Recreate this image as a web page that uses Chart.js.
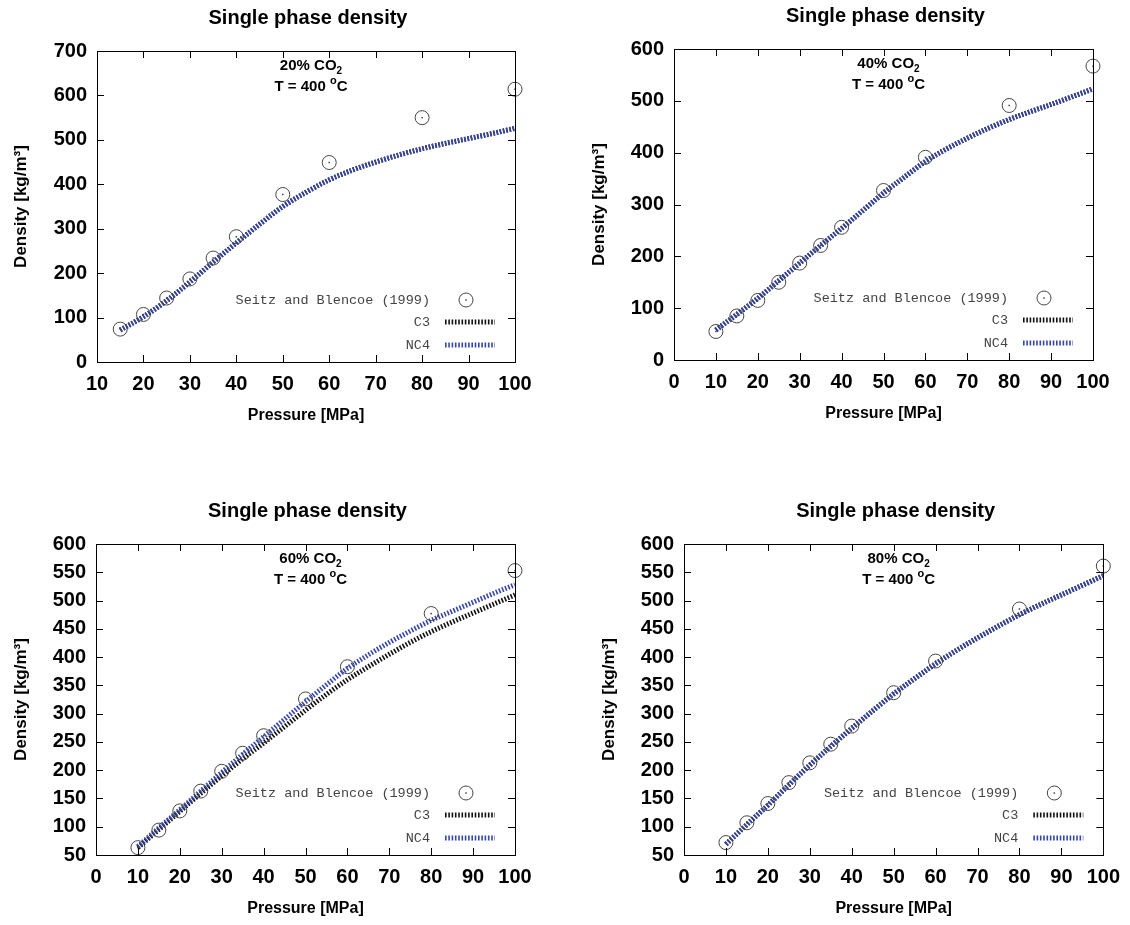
<!DOCTYPE html>
<html>
<head>
<meta charset="utf-8">
<script src="https://cdn.jsdelivr.net/npm/chart.js@4.4.0/dist/chart.umd.min.js"></script>
<style>
  body { margin: 0; background: #fff; width: 1130px; height: 925px; position: relative; overflow: hidden; }
  canvas { position: absolute; }
</style>
</head>
<body>
<canvas id="c20" width="560" height="445" style="left:0px;top:0px"></canvas>
<canvas id="c40" width="560" height="445" style="left:570px;top:0px"></canvas>
<canvas id="c60" width="560" height="435" style="left:0px;top:490px"></canvas>
<canvas id="c80" width="560" height="435" style="left:570px;top:490px"></canvas>
<script>
// measured points, Seitz and Blencoe (1999)
const expP20 = [15, 20, 25, 30, 35, 40, 50, 60, 80, 100];
const exp20 = [74, 107, 144, 187, 234, 282, 377, 449, 550, 614];
const expP = [10, 15, 20, 25, 30, 35, 40, 50, 60, 80, 100];
const exp40 = [55, 85, 115, 150, 187, 221, 256, 327, 391, 491, 567];
const exp60 = [63, 94, 128, 163, 198, 230, 261, 326, 383, 477, 553];
const exp80 = [72, 107, 141, 178, 213, 246, 278, 337, 393, 485, 561];

// model curves (C3 / NC4)
const curveP20 = [15, 20, 25, 30, 35, 40, 45, 50, 55, 60, 65, 70, 75, 80, 85, 90, 95, 100];
const c3_20  = [72, 102, 138, 180, 225, 268, 310, 350, 382, 410, 432, 450, 466, 480, 492, 503, 514, 526];
const nc4_20 = [72, 102, 138, 180, 225, 268, 310, 350, 382, 410, 432, 450, 466, 480, 492, 503, 514, 526];

const curveP = [10, 15, 20, 25, 30, 35, 40, 45, 50, 55, 60, 65, 70, 75, 80, 85, 90, 95, 100];
const c3_40  = [58, 88, 119, 153, 187, 221, 254, 288, 322, 353, 383, 407, 428, 447, 464, 479, 493, 508, 523];
const nc4_40 = [58, 88, 119, 153, 187, 221, 254, 288, 322, 353, 383, 407, 428, 447, 464, 479, 493, 508, 523];
const c3_60  = [63, 95, 127, 159, 190, 220, 248, 277, 306, 334, 360, 383, 405, 426, 445, 462, 478, 494, 510];
const nc4_60 = [65, 98, 130, 163, 196, 228, 259, 290, 321, 351, 380, 404, 426, 446, 465, 481, 497, 513, 528];
const c3_80  = [69, 104, 138, 174, 209, 242, 274, 305, 335, 362, 388, 412, 434, 455, 475, 493, 510, 527, 544];
const nc4_80 = [69, 104, 138, 174, 209, 242, 274, 305, 335, 362, 388, 412, 434, 455, 475, 493, 510, 527, 544];

const FONT = "'Liberation Sans', Arial, sans-serif";
const MONO = "'Courier New', 'Liberation Mono', monospace";
const BLUE = '#3546a8';

function toXY(xs, ys) {
  return xs.map((x, i) => ({ x: x, y: ys[i] }));
}

// text pieces: [text, yShift, size]
function drawPieces(ctx, pieces, cx, y) {
  let w = 0;
  pieces.forEach(p => {
    ctx.font = 'bold ' + p[2] + 'px ' + FONT;
    w += ctx.measureText(p[0]).width;
  });
  let x = cx - w / 2;
  pieces.forEach(p => {
    ctx.font = 'bold ' + p[2] + 'px ' + FONT;
    ctx.fillText(p[0], x, y + p[1]);
    x += ctx.measureText(p[0]).width;
  });
}

const extras = {
  id: 'extras',
  afterDatasetsDraw(chart) {
    const ctx = chart.ctx;
    const a = chart.chartArea;
    const o = chart.options.plugins.extras;
    const xs = chart.scales.x, ys = chart.scales.y;
    ctx.save();

    // little dot in the middle of every measured circle
    ctx.fillStyle = '#444';
    chart.getDatasetMeta(0).data.forEach(p => {
      ctx.fillRect(p.x - 0.75, p.y - 0.75, 1.5, 1.5);
    });

    // frame
    ctx.strokeStyle = '#000';
    ctx.lineWidth = 1;
    ctx.strokeRect(Math.round(a.left) + 0.5, Math.round(a.top) + 0.5,
      Math.round(a.right - a.left), Math.round(a.bottom - a.top));

    // inner ticks on all four sides
    ctx.beginPath();
    xs.ticks.forEach(t => {
      const px = Math.round(xs.getPixelForValue(t.value)) + 0.5;
      ctx.moveTo(px, a.bottom); ctx.lineTo(px, a.bottom - 7);
      ctx.moveTo(px, a.top); ctx.lineTo(px, a.top + 7);
    });
    ys.ticks.forEach(t => {
      const py = Math.round(ys.getPixelForValue(t.value)) + 0.5;
      ctx.moveTo(a.left, py); ctx.lineTo(a.left + 7, py);
      ctx.moveTo(a.right, py); ctx.lineTo(a.right - 7, py);
    });
    ctx.stroke();

    // title
    const cx = (a.left + a.right) / 2;
    ctx.fillStyle = '#000';
    ctx.textBaseline = 'middle';
    ctx.textAlign = 'left';
    drawPieces(ctx, [['Single phase density', 0, 20]], cx + 2, a.top - 33);

    // annotation
    drawPieces(ctx, [[o.co2 + '% CO', 0, 15], ['2', 5, 10]], cx + 5, a.top + 15);
    drawPieces(ctx, [['T = 400 ', 0, 15], ['o', -6, 11], ['C', 0, 15]], cx + 5, a.top + 36);

    // legend
    ctx.font = '13.5px ' + MONO;
    ctx.textAlign = 'right';
    const rows = [
      ['Seitz and Blencoe (1999)', null],
      ['C3', '#111'],
      ['NC4', BLUE]
    ];
    const rowY = [a.bottom - 62, a.bottom - 40, a.bottom - 17];
    rows.forEach((r, i) => {
      ctx.fillStyle = '#444';
      ctx.fillText(r[0], a.right - 85, rowY[i]);
      if (r[1] === null) {
        ctx.beginPath();
        ctx.strokeStyle = '#444';
        ctx.lineWidth = 1;
        ctx.arc(a.right - 49, rowY[i], 7, 0, Math.PI * 2);
        ctx.stroke();
        ctx.fillRect(a.right - 49.75, rowY[i] - 0.75, 1.5, 1.5);
      } else {
        ctx.beginPath();
        ctx.strokeStyle = r[1];
        ctx.lineWidth = 5;
        ctx.setLineDash([1.6, 1.7]);
        ctx.moveTo(a.right - 70, rowY[i]);
        ctx.lineTo(a.right - 20, rowY[i]);
        ctx.stroke();
        ctx.setLineDash([]);
      }
    });
    ctx.restore();
  }
};

function makeChart(id, cfg) {
  const lineStyle = {
    showLine: true, pointRadius: 0, borderWidth: 5, borderDash: [1.6, 1.7],
    cubicInterpolationMode: 'monotone', fill: false
  };
  const ytitleLH = 17 * 1.2;
  const xtitleLH = 16 * 1.2;
  const tickFont = { family: FONT, size: 20, weight: 'bold' };
  new Chart(document.getElementById(id), {
    type: 'scatter',
    data: {
      datasets: [
        {
          label: 'Seitz and Blencoe (1999)',
          data: toXY(cfg.expP, cfg.exp),
          pointRadius: 7, pointStyle: 'circle', borderColor: '#444',
          backgroundColor: 'rgba(0,0,0,0)', borderWidth: 1, showLine: false, clip: false
        },
        Object.assign({ label: 'NC4', data: toXY(cfg.curveP, cfg.nc4), borderColor: BLUE }, lineStyle),
        Object.assign({ label: 'C3', data: toXY(cfg.curveP, cfg.c3), borderColor: '#111' }, lineStyle)
      ]
    },
    options: {
      responsive: false,
      animation: false,
      events: [],
      layout: { padding: { top: cfg.T - cfg.top, right: cfg.left + 560 - cfg.R, left: 0, bottom: 0 } },
      plugins: {
        legend: { display: false },
        tooltip: { enabled: false },
        extras: { co2: cfg.co2 }
      },
      scales: {
        x: {
          type: 'linear', min: cfg.xMin, max: 100,
          ticks: { stepSize: 10, padding: 10, color: '#000', font: tickFont, maxRotation: 0, minRotation: 0, autoSkip: false },
          grid: { display: false, drawTicks: false },
          border: { display: false },
          title: {
            display: true, text: 'Pressure [MPa]', color: '#000',
            font: { family: FONT, size: 16, weight: 'bold' },
            padding: { top: 0, bottom: (cfg.top + cfg.h) - (cfg.B + 54) - xtitleLH / 2 }
          },
          afterFit: s => { s.height = cfg.top + cfg.h - cfg.B; }
        },
        y: {
          type: 'linear', min: cfg.yMin, max: cfg.yMax,
          ticks: { stepSize: cfg.yStep, padding: 10, color: '#000', font: tickFont, autoSkip: false },
          grid: { display: false, drawTicks: false },
          border: { display: false },
          title: {
            display: true, text: 'Density [kg/m\u00B3]', color: '#000',
            font: { family: FONT, size: 17, weight: 'bold' },
            padding: { top: cfg.ytx - ytitleLH / 2, bottom: 0 }
          },
          afterFit: s => { s.width = cfg.L - cfg.left; }
        }
      }
    },
    plugins: [extras]
  });
}

makeChart('c20', {
  co2: 20, expP: expP20, exp: exp20, curveP: curveP20, c3: c3_20, nc4: nc4_20,
  xMin: 10, yMin: 0, yMax: 700, yStep: 100,
  left: 0, top: 0, h: 445, L: 97, R: 515, T: 51, B: 362, ytx: 21
});
makeChart('c40', {
  co2: 40, expP: expP, exp: exp40, curveP: curveP, c3: c3_40, nc4: nc4_40,
  xMin: 0, yMin: 0, yMax: 600, yStep: 100,
  left: 570, top: 0, h: 445, L: 674, R: 1093, T: 49, B: 360, ytx: 29
});
makeChart('c60', {
  co2: 60, expP: expP, exp: exp60, curveP: curveP, c3: c3_60, nc4: nc4_60,
  xMin: 0, yMin: 50, yMax: 600, yStep: 50,
  left: 0, top: 490, h: 435, L: 96, R: 515, T: 544, B: 855, ytx: 21
});
makeChart('c80', {
  co2: 80, expP: expP, exp: exp80, curveP: curveP, c3: c3_80, nc4: nc4_80,
  xMin: 0, yMin: 50, yMax: 600, yStep: 50,
  left: 570, top: 490, h: 435, L: 684, R: 1104, T: 544, B: 855, ytx: 39
});
</script>
</body>
</html>
